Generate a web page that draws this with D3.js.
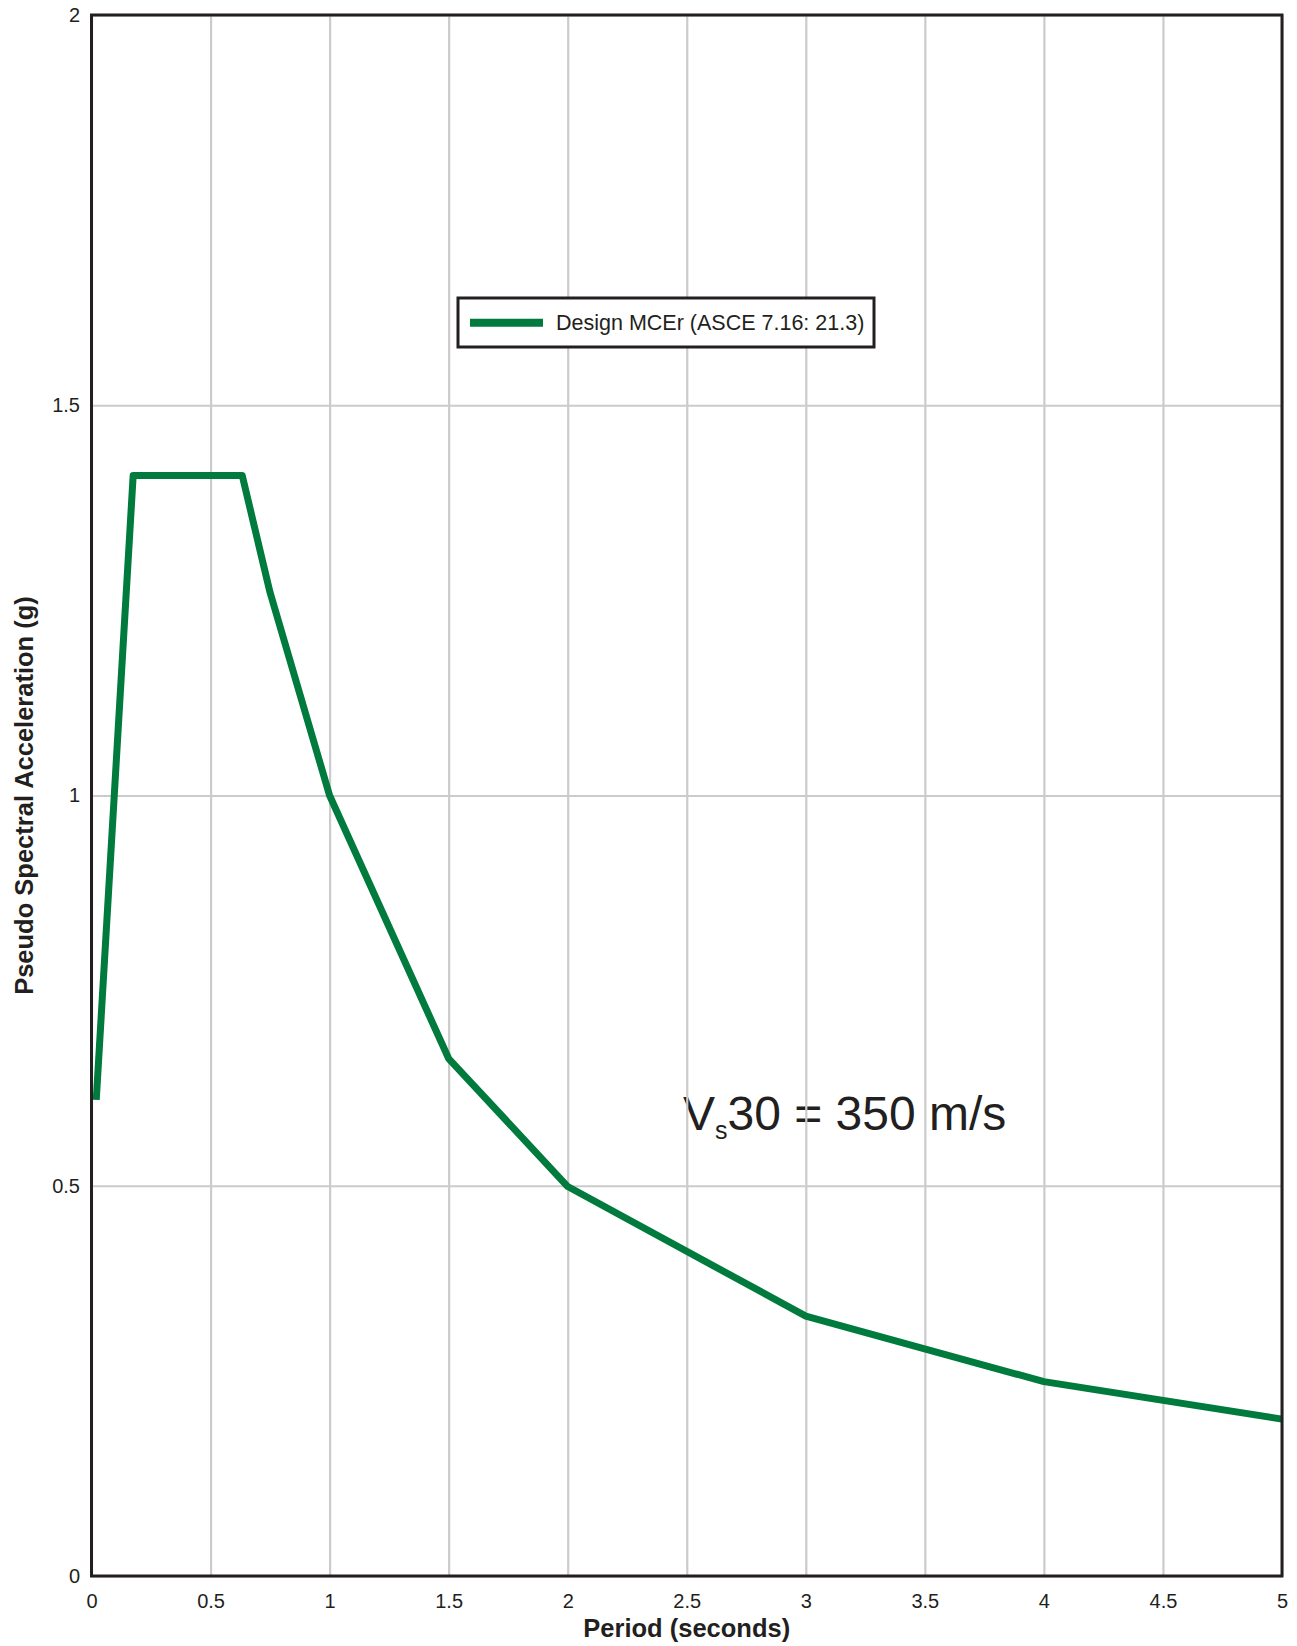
<!DOCTYPE html>
<html>
<head>
<meta charset="utf-8">
<script src="https://cdn.jsdelivr.net/npm/d3@7"></script>
<style>
  body { margin: 0; background: #fff; }
  svg { display: block; font-family: Arial, "Liberation Sans", Helvetica, sans-serif; }
</style>
</head>
<body>
<script>

// spectrum points (period in s, Sa in g)
var periods = [0.02, 0.175, 0.633, 0.75, 1, 1.5, 2, 3, 4, 5];
var accel = [0.61, 1.41, 1.41, 1.26, 1.0, 0.663, 0.499, 0.333, 0.249, 0.201];

var xTicks = [0, 0.5, 1, 1.5, 2, 2.5, 3, 3.5, 4, 4.5, 5];
var yTicks = [0, 0.5, 1, 1.5, 2];

var seriesName = "Design MCEr (ASCE 7.16: 21.3)";
var xTitle = "Period (seconds)";
var yTitle = "Pseudo Spectral Acceleration (g)";

var W = 1297, H = 1646;
var margin = {top: 15, right: 15, bottom: 70, left: 91.5};
var x0 = margin.left, x1 = 1282, y0 = 1576, y1 = margin.top;

var ink = "#231f20";
var green = "#007a3d";

var xScale = d3.scaleLinear().domain([0, 5]).range([x0, x1]);
var yScale = d3.scaleLinear().domain([0, 2]).range([y0, y1]);

var svg = d3.select("body").append("svg")
    .attr("width", W)
    .attr("height", H);

// annotation sits under the grid, like the original
var note = svg.append("text")
    .attr("x", 683)
    .attr("y", 1130)
    .attr("fill", ink)
    .attr("font-size", "48px");
note.append("tspan").text("V");
note.append("tspan").attr("font-size", "25px").attr("dy", 9).text("s");
note.append("tspan").attr("dy", -9).text("30 = 350 m/s");

// grid
svg.append("g")
    .attr("transform", "translate(0," + y0 + ")")
    .call(d3.axisBottom(xScale).tickValues(xTicks).tickSize(-(y0 - y1)).tickFormat(""))
    .call(function(g){ g.select(".domain").remove(); })
    .selectAll("line")
    .attr("stroke", "#cbcbcb")
    .attr("stroke-width", 2.2);

svg.append("g")
    .attr("transform", "translate(" + x0 + ",0)")
    .call(d3.axisLeft(yScale).tickValues(yTicks).tickSize(-(x1 - x0)).tickFormat(""))
    .call(function(g){ g.select(".domain").remove(); })
    .selectAll("line")
    .attr("stroke", "#cbcbcb")
    .attr("stroke-width", 2.2);

// tick labels
var xAxis = svg.append("g")
    .attr("transform", "translate(0," + y0 + ")")
    .style("color", ink)
    .call(d3.axisBottom(xScale).tickValues(xTicks).tickSize(0).tickPadding(18).tickFormat(d3.format("")));
xAxis.select(".domain").remove();
xAxis.selectAll("text").attr("font-size", "20px").attr("font-family", null);

var yAxis = svg.append("g")
    .attr("transform", "translate(" + x0 + ",0)")
    .style("color", ink)
    .call(d3.axisLeft(yScale).tickValues(yTicks).tickSize(0).tickPadding(11.5).tickFormat(d3.format("")));
yAxis.select(".domain").remove();
yAxis.selectAll("text").attr("font-size", "20px").attr("font-family", null);

// curve
var pts = periods.map(function(p, i){ return [p, accel[i]]; });
var line = d3.line()
    .x(function(d){ return xScale(d[0]); })
    .y(function(d){ return yScale(d[1]); });

svg.append("path")
    .datum(pts)
    .attr("d", line)
    .attr("fill", "none")
    .attr("stroke", green)
    .attr("stroke-width", 7)
    .attr("stroke-linejoin", "round");

// frame
svg.append("rect")
    .attr("x", x0)
    .attr("y", y1)
    .attr("width", x1 - x0)
    .attr("height", y0 - y1)
    .attr("fill", "none")
    .attr("stroke", ink)
    .attr("stroke-width", 3);

// legend
var legend = svg.append("g").attr("transform", "translate(458,298)");
legend.append("rect")
    .attr("width", 416)
    .attr("height", 49)
    .attr("fill", "#fff")
    .attr("stroke", ink)
    .attr("stroke-width", 3);
legend.append("line")
    .attr("x1", 12).attr("x2", 85)
    .attr("y1", 24.7).attr("y2", 24.7)
    .attr("stroke", green)
    .attr("stroke-width", 8);
legend.append("text")
    .attr("x", 98)
    .attr("y", 32)
    .attr("font-size", "21.5px")
    .attr("fill", ink)
    .text(seriesName);

// axis titles
svg.append("text")
    .attr("x", (x0 + x1) / 2)
    .attr("y", 1637)
    .attr("text-anchor", "middle")
    .attr("font-size", "25.5px")
    .attr("font-weight", "bold")
    .attr("fill", ink)
    .text(xTitle);

svg.append("text")
    .attr("transform", "translate(33," + ((y0 + y1) / 2) + ") rotate(-90)")
    .attr("text-anchor", "middle")
    .attr("font-size", "25.5px")
    .attr("font-weight", "bold")
    .attr("fill", ink)
    .text(yTitle);

</script>
</body>
</html>
